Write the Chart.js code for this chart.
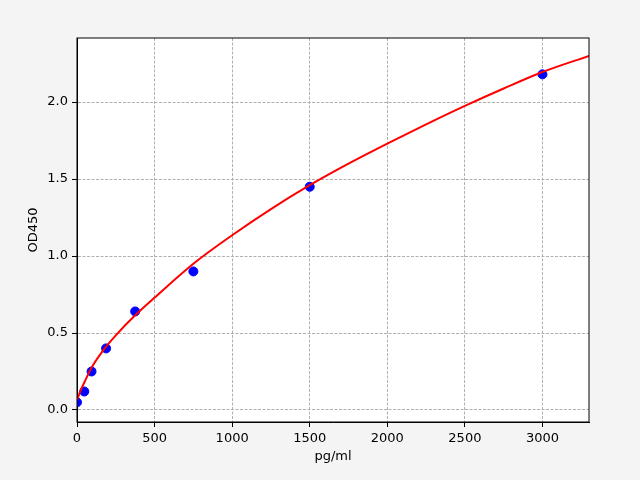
<!DOCTYPE html>
<html>
<head>
    <title>OD450 standard curve</title>
    <script src="https://cdn.jsdelivr.net/npm/chart.js"></script>
    <style>
        body { margin: 0; background: #f4f4f4; }
    </style>
</head>
<body>
    <canvas id="chart" width="640" height="480"></canvas>

    <script>
        // standards (pg/ml) and measured OD450
        var stdConc = [0, 46.875, 93.75, 187.5, 375, 750, 1500, 3000];
        var stdOD = [0.05, 0.12, 0.25, 0.40, 0.64, 0.90, 1.45, 2.18];

        // fitted curve
        var fitConc = [0, 25, 50, 100, 175, 250, 375, 500, 750, 1000, 1250, 1500, 1750, 2000, 2250, 2500, 2750, 3000, 3300];
        var fitOD = [0.065, 0.13, 0.185, 0.285, 0.395, 0.485, 0.615, 0.73, 0.95, 1.135, 1.305, 1.46, 1.60, 1.73, 1.855, 1.975, 2.088, 2.195, 2.30];

        var xTicks = [0, 500, 1000, 1500, 2000, 2500, 3000];
        var yTicks = [0, 0.5, 1.0, 1.5, 2.0];

        var font = { family: 'DejaVu Sans', size: 13 };

        // grey page, white plot area, black frame all round
        var frame = {
            id: 'frame',
            beforeDraw: function (chart) {
                var c = chart.ctx, a = chart.chartArea;
                c.save();
                c.fillStyle = '#f4f4f4';
                c.fillRect(0, 0, chart.width, chart.height);
                c.fillStyle = '#ffffff';
                c.fillRect(a.left, a.top, a.right - a.left, a.bottom - a.top);
                c.restore();
            },
            afterDraw: function (chart) {
                var c = chart.ctx, a = chart.chartArea;
                c.save();
                c.strokeStyle = '#000';
                c.lineWidth = 1;
                c.strokeRect(a.left, a.top, a.right - a.left, a.bottom - a.top);
                c.restore();
            }
        };

        var ctx = document.getElementById('chart').getContext('2d');
        new Chart(ctx, {
            type: 'scatter',
            data: {
                datasets: [
                    {
                        data: fitConc.map((x, i) => ({ x: x, y: fitOD[i] })),
                        showLine: true,
                        borderColor: '#ff0000',
                        borderWidth: 2,
                        pointRadius: 0,
                        cubicInterpolationMode: 'monotone',
                        order: 0
                    },
                    {
                        data: stdConc.map((x, i) => ({ x: x, y: stdOD[i] })),
                        backgroundColor: '#0000ff',
                        borderColor: '#0000ff',
                        pointRadius: 4.5,
                        order: 1
                    }
                ]
            },
            options: {
                responsive: false,
                animation: false,
                events: [],
                layout: { padding: { left: 22, right: 51, top: 38, bottom: 12 } },
                plugins: { legend: { display: false }, tooltip: { enabled: false } },
                scales: {
                    x: {
                        type: 'linear',
                        min: 0,
                        max: 3300,
                        afterBuildTicks: s => { s.ticks = xTicks.map(v => ({ value: v })); },
                        afterFit: s => { s.height = 46; },
                        ticks: { color: '#000', font: font, padding: 4, maxRotation: 0, callback: v => String(v) },
                        grid: { color: '#b0b0b0', tickColor: '#000', tickLength: 5 },
                        border: { color: '#000', dash: [3, 1.5] },
                        title: { display: true, text: 'pg/ml', color: '#000', font: font, padding: { top: 2 } }
                    },
                    y: {
                        type: 'linear',
                        min: -0.078,
                        max: 2.416,
                        afterBuildTicks: s => { s.ticks = yTicks.map(v => ({ value: v })); },
                        afterFit: s => { s.width = 55; },
                        ticks: { color: '#000', font: font, padding: 4, callback: v => v.toFixed(1) },
                        grid: { color: '#b0b0b0', tickColor: '#000', tickLength: 5 },
                        border: { color: '#000', dash: [3, 1.5] },
                        title: { display: true, text: 'OD450', color: '#000', font: font, padding: { bottom: 2 } }
                    }
                }
            },
            plugins: [frame]
        });
    </script>
</body>
</html>
